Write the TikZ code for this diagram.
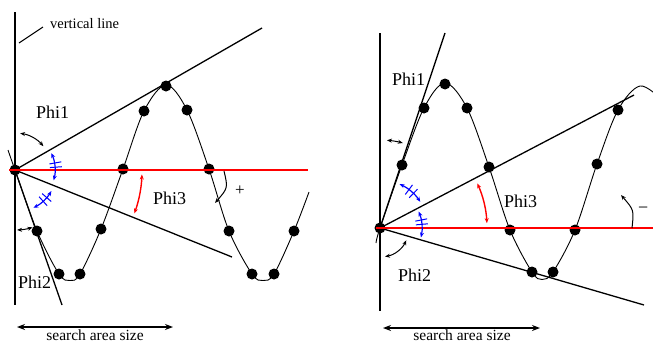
\documentclass[tikz,border=0pt]{standalone}
\usepackage{fontspec}
\setmainfont{Liberation Serif}
\newfontfamily\tnr{Liberation Serif}
\usetikzlibrary{arrows.meta}
\begin{document}
\begin{tikzpicture}[x=1pt,y=-1pt,
  >={Stealth[length=5pt,width=4pt]},
  ln/.style={line width=1.3pt},
  crv/.style={line width=0.9pt},
  redln/.style={red,line width=1.6pt},
  dot/.style={circle,fill=black,inner sep=0pt,minimum size=11pt},
  blk/.style={line width=1pt,<->},
  bluearc/.style={blue,line width=1.2pt,<->},
  bluetick/.style={blue,line width=1pt},
  redarc/.style={red,line width=1.4pt,<->},
  lbl/.style={font=\tnr\fontsize{18}{20}\selectfont,inner sep=0pt,anchor=base west},
  small/.style={font=\tnr\fontsize{14.5}{16}\selectfont,inner sep=0pt,anchor=base west},
  sizetxt/.style={font=\tnr\fontsize{15.5}{18}\selectfont,inner sep=0pt,anchor=base},
  sizearrow/.style={line width=1.3pt,{Stealth[length=8pt,width=6pt]}-{Stealth[length=8pt,width=6pt]}}
]
\useasboundingbox (0,0) rectangle (653,343);

%================ LEFT PANEL ================
\coordinate (OL) at (15,170);
\coordinate (LVt) at (15,12);
\coordinate (LVb) at (15,305);
\coordinate (LUp) at (262,28);
\coordinate (LLo) at (232,257);
\coordinate (LSt) at (62,305);
\coordinate (LRs) at (9,170);
\coordinate (LRe) at (308,170);
\coordinate (VTa) at (19,43);
\coordinate (VTb) at (43,27);

\draw[ln] (LVt) -- (LVb);
\draw[line width=1pt] (VTa) -- (VTb);
\node[small] (vl) at (50,28) {vertical line};
\draw[ln] (OL) -- (LUp);
\draw[ln] (OL) -- (LLo);
\draw[ln] (OL) -- (LSt);

\draw[crv] plot[smooth,tension=0.55] coordinates {(8,150) (15,170) (37,231) (59,274) (70,280.5) (80,274) (101,229) (123,169) (144,111) (166,85) (187,110) (209,169) (229,231) (252,274) (263,280.5) (274,274) (294,231) (309,192)};

\foreach \p [count=\i] in {(15,170),(37,231),(59,274),(80,274),(101,229),(123,169),(144,111),(166,86),(187,110),(209,169),(229,231),(252,274),(274,274),(294,231)}
  \node[dot] (ld\i) at \p {};

\draw[redln] (LRs) -- (LRe);

% angle arcs left
\draw[blk] (OL) ++(-82:37) arc[start angle=-82,end angle=-40,radius=37];
\draw[blk] (OL) ++(88:60) arc[start angle=88,end angle=73,radius=60];
\draw[bluearc] (OL) ++(-25:40) arc[start angle=-25,end angle=15,radius=40];
\draw[bluetick] (OL) ++(-10:35) -- ++(-10:12);
\draw[bluetick] (OL) ++(-4:35) -- ++(-4:12);
\draw[bluearc] (OL) ++(30:42) arc[start angle=30,end angle=64,radius=42];
\draw[bluetick] (OL) ++(41:36) -- ++(41:12);
\draw[bluetick] (OL) ++(48:36) -- ++(48:12);
\draw[redarc] (OL) ++(2:127) arc[start angle=2,end angle=20,radius=127];
\coordinate (PLa) at (224,171);
\coordinate (PLb) at (215,203);
\draw[line width=1pt,->] (PLa) .. controls (228,188) .. (PLb);
\node[font=\tnr\fontsize{17}{18}\selectfont,inner sep=0pt] (plus) at (240,191) {+};

\node[lbl] (phi1l) at (36,118) {Phi1};
\node[lbl] (phi3l) at (153,204) {Phi3};
\node[lbl] (phi2l) at (18,288) {Phi2};

\coordinate (SLa) at (17,327);
\coordinate (SLb) at (173,327);
\draw[sizearrow] (SLa) -- (SLb);
\node[sizetxt] (sal) at (95,340) {search area size};

%================ RIGHT PANEL ================
\coordinate (OR) at (380,228);
\coordinate (RVt) at (380,33);
\coordinate (RVb) at (380,311);
\coordinate (RP1) at (445,33);
\coordinate (RUp) at (634,95);
\coordinate (RLo) at (644,305);
\coordinate (RRs) at (376,228);
\coordinate (RRe) at (655,228);

\draw[ln] (RVt) -- (RVb);
\draw[ln] (OR) -- (RP1);
\draw[ln] (OR) -- (RUp);
\draw[ln] (OR) -- (RLo);

\draw[crv] plot[smooth,tension=0.55] coordinates {(376,243) (380,228) (402,165) (424,108) (445,83) (467,108) (489,167) (510,230) (532,272) (542,279.5) (553,272) (575,230) (597,164) (618,110) (640,86) (662,100)};

\foreach \p [count=\i] in {(380,228),(402,165),(424,108),(445,84),(467,108),(489,167),(510,230),(532,272),(553,272),(575,230),(597,164),(618,110)}
  \node[dot] (rd\i) at \p {};

\draw[redln] (RRs) -- (RRe);

% angle arcs right
\draw[blk] (OR) ++(-85.5:88) arc[start angle=-85.5,end angle=-75,radius=88];
\draw[blk] (OR) ++(25:29) arc[start angle=25,end angle=80,radius=29];
\draw[bluearc] (OR) ++(-66:48) arc[start angle=-66,end angle=-33,radius=48];
\draw[bluetick] (OR) ++(-46:42) -- ++(-46:12);
\draw[bluetick] (OR) ++(-53:42) -- ++(-53:12);
\draw[bluearc] (OR) ++(-23:42) arc[start angle=-23,end angle=13,radius=42];
\draw[bluetick] (OR) ++(-11:36) -- ++(-11:12);
\draw[bluetick] (OR) ++(-5:36) -- ++(-5:12);
\draw[redarc] (OR) ++(-24.6:107) arc[start angle=-24.6,end angle=-2.6,radius=107];
\coordinate (MRa) at (632,228);
\coordinate (MRb) at (621,195);
\draw[line width=1pt,->] (MRa) .. controls (634,210) .. (MRb);
\node[font=\tnr\fontsize{18}{20}\selectfont,inner sep=0pt,anchor=west] (minus) at (638,210) {−};

\node[lbl] (phi1r) at (392,85) {Phi1};
\node[lbl] (phi3r) at (504,207) {Phi3};
\node[lbl] (phi2r) at (398,281) {Phi2};

\coordinate (SRa) at (383,328);
\coordinate (SRb) at (540,328);
\draw[sizearrow] (SRa) -- (SRb);
\node[sizetxt] (sar) at (462,340) {search area size};
\end{tikzpicture}
\end{document}
